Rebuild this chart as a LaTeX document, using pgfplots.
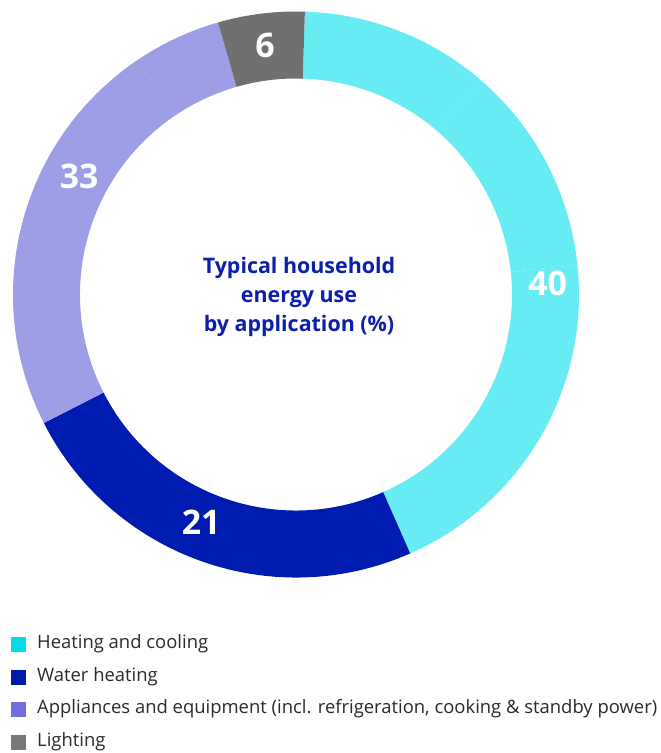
\documentclass[border=0pt]{standalone}
\usepackage{pgfplots}
\pgfplotsset{compat=1.18}
\usepackage{pgfplotstable}
\usepackage{fontspec}
\setmainfont{Open Sans}

\definecolor{ringcyan}{HTML}{67ECF3}
\definecolor{ringblue}{HTML}{001CB0}
\definecolor{ringlav}{HTML}{9D9EE6}
\definecolor{ringgray}{HTML}{707070}
\definecolor{keycyan}{HTML}{00DCE8}
\definecolor{keyblue}{HTML}{0019A8}
\definecolor{keylav}{HTML}{6E6EDC}
\definecolor{keygray}{HTML}{777777}
\definecolor{titleblue}{HTML}{0A1FAA}
\definecolor{keytext}{HTML}{2A2A2A}

% ring pieces as drawn, degrees, clockwise from the top
\pgfplotstableread{
seg   col
39.1  ringcyan
43.1  ringcyan
72.2  ringcyan
86.8  ringblue
82.9  ringlav
18.1  ringlav
17.8  ringgray
}\ringdata

% printed values and where they sit on the ring (angle, radius)
\pgfplotstableread{
val ang   rad
40  2.6   252
21  247.4 247
33  151.4 247
6   97.1  251
}\labeldata

\begin{document}
\begin{tikzpicture}
\begin{axis}[
  x=1bp, y=1bp,
  xmin=0, xmax=661, ymin=0, ymax=753,
  hide axis, clip=false,
  legend cell align=left,
  legend image code/.code={\fill[#1, draw=none] (0bp,-7.5bp) rectangle (15bp,7.5bp);},
  legend style={
    at={(axis cs:11,117)}, anchor=north west,
    draw=none, fill=none, inner sep=0pt,
    row sep=15.5bp,
    font=\fontsize{18.5}{18.5}\selectfont, text=keytext,
    nodes={inner sep=0pt, text height=12.5bp, text depth=4.5bp},
    /tikz/every odd column/.style={column sep=11bp},
  },
]
\def\cx{296}\def\cy{458.5}\def\Ro{283}\def\Ri{216}

\pgfplotstablegetrowsof{\ringdata}
\pgfmathtruncatemacro\lastrow{\pgfplotsretval-1}
\def\angA{88.2}
\pgfplotsforeachungrouped \i in {0,...,\lastrow}{%
  \pgfplotstablegetelem{\i}{seg}\of{\ringdata}\let\segw\pgfplotsretval
  \pgfplotstablegetelem{\i}{col}\of{\ringdata}\let\segcol\pgfplotsretval
  \pgfmathsetmacro\angB{\angA-\segw}%
  \pgfmathsetmacro\xa{\cx+\Ro*cos(\angA)}%
  \pgfmathsetmacro\ya{\cy+\Ro*sin(\angA)}%
  \pgfmathsetmacro\xb{\cx+\Ri*cos(\angB)}%
  \pgfmathsetmacro\yb{\cy+\Ri*sin(\angB)}%
  \edef\cmd{\noexpand\fill[\segcol] (axis cs:\xa,\ya)
    arc[start angle=\angA, end angle=\angB, radius=\Ro bp]
    -- (axis cs:\xb,\yb)
    arc[start angle=\angB, end angle=\angA, radius=\Ri bp] -- cycle;}%
  \cmd
  \let\angA\angB
}

\pgfplotstablegetrowsof{\labeldata}
\pgfmathtruncatemacro\lastlab{\pgfplotsretval-1}
\pgfplotsforeachungrouped \i in {0,...,\lastlab}{%
  \pgfplotstablegetelem{\i}{val}\of{\labeldata}\let\lv\pgfplotsretval
  \pgfplotstablegetelem{\i}{ang}\of{\labeldata}\let\la\pgfplotsretval
  \pgfplotstablegetelem{\i}{rad}\of{\labeldata}\let\lr\pgfplotsretval
  \pgfmathsetmacro\lx{\cx+\lr*cos(\la)}%
  \pgfmathsetmacro\ly{\cy+\lr*sin(\la)}%
  \edef\cmd{\noexpand\node[text=white, font=\noexpand\bfseries\noexpand\fontsize{34}{34}\noexpand\selectfont]
    at (axis cs:\lx,\ly) {\lv};}%
  \cmd
}

\node[align=center, text=titleblue, font=\bfseries\fontsize{21.5}{29}\selectfont]
  at (axis cs:299,456) {Typical household\\energy use\\by application (\%)};

\addlegendimage{fill=keycyan}
\addlegendentry{Heating and cooling}
\addlegendimage{fill=keyblue}
\addlegendentry{Water heating}
\addlegendimage{fill=keylav}
\addlegendentry{Appliances and equipment (incl. refrigeration, cooking \& standby power)}
\addlegendimage{fill=keygray}
\addlegendentry{Lighting}
\end{axis}
\pgfresetboundingbox
\path[use as bounding box] (current axis.south west) rectangle (current axis.north east);
\end{tikzpicture}
\end{document}
